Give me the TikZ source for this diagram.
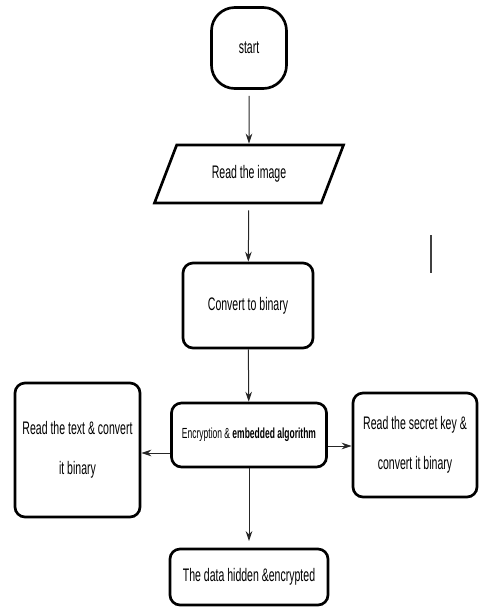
\documentclass[tikz,border=0pt]{standalone}
\usepackage{fontspec}
\usepackage{tikz}
\usetikzlibrary{shapes.geometric}
\usetikzlibrary{arrows.meta}
\usetikzlibrary{calc}

\newfontfamily\narrowfont{Liberation Sans}[FakeStretch=0.58]

\begin{document}
\begin{tikzpicture}[x=0.3mm, y=-0.3mm]
    \tikzstyle{box} = [
      draw=black,
      line width=0.8mm,
      rounded corners=3mm,
      anchor=center,
      align=center,
      inner sep=0pt,
      font=\narrowfont\fontsize{15.5}{34}\selectfont,
    ]
    \tikzstyle{iobox} = [
      box,
      rounded corners=0pt,
      trapezium,
      trapezium left angle=56,
      trapezium right angle=124,
      trapezium stretches=true,
    ]
    \tikzstyle{arrow} = [
      line width=0.3mm,
      -{Stealth[length=3mm,width=2mm]},
      draw=black!85,
    ]

    \newcommand{\midcol}[0]{249}

    \useasboundingbox (0,0) rectangle (478,607);

    % start
    {
      \node[box, rounded corners=7mm, minimum width=22.5mm, minimum height=24.3mm] (startBox) at (\midcol,48) {start};
    }

    % read the image
    {
      \node[iobox, minimum width=57mm, minimum height=17.4mm] (readImage) at (\midcol,174) {Read the image};
      \draw[arrow, shorten <=1.8mm] (startBox) -- (readImage);
    }

    % convert
    {
      \node[box, minimum width=39mm, minimum height=25.5mm] (convBinary) at (248,305.5) {Convert to binary};
      \draw[arrow, shorten <=1.8mm] (readImage) -- (convBinary);
    }

    % encryption
    {
      \node[box, minimum width=46.5mm, minimum height=19.2mm, font=\narrowfont\fontsize{12.5}{15}\selectfont] (encAlgo) at (\midcol,435) {Encryption \& \textbf{embedded algorithm}};
      \draw[arrow] (convBinary) -- (encAlgo);
    }

    % side inputs
    {
      \node[box, minimum width=37.5mm, minimum height=40.2mm] (readText) at (77.5,450) {Read the text \& convert\\it binary};
      \node[box, minimum width=37.2mm, minimum height=31.2mm] (readKey) at (415,445) {Read the secret key \&\\convert it binary};
      \draw[arrow] ([yshift=-5.4mm] encAlgo.west) -- ([yshift=-5.4mm] encAlgo.west -| readText.east);
      \draw[arrow] ([yshift=-3.3mm] encAlgo.east) -- ([yshift=-3.3mm] encAlgo.east -| readKey.west);
    }

    % output
    {
      \node[box, minimum width=47.4mm, minimum height=16.8mm] (dataHidden) at (\midcol,577) {The data hidden \&encrypted};
      \draw[arrow, shorten >=2mm] (encAlgo) -- (dataHidden);
    }

    % stray mark
    {
      \coordinate (markTop) at (431,235);
      \coordinate (markBot) at (431,273);
      \draw[line width=0.4mm, draw=black!75] (markTop) -- (markBot);
    }
\end{tikzpicture}
\end{document}
